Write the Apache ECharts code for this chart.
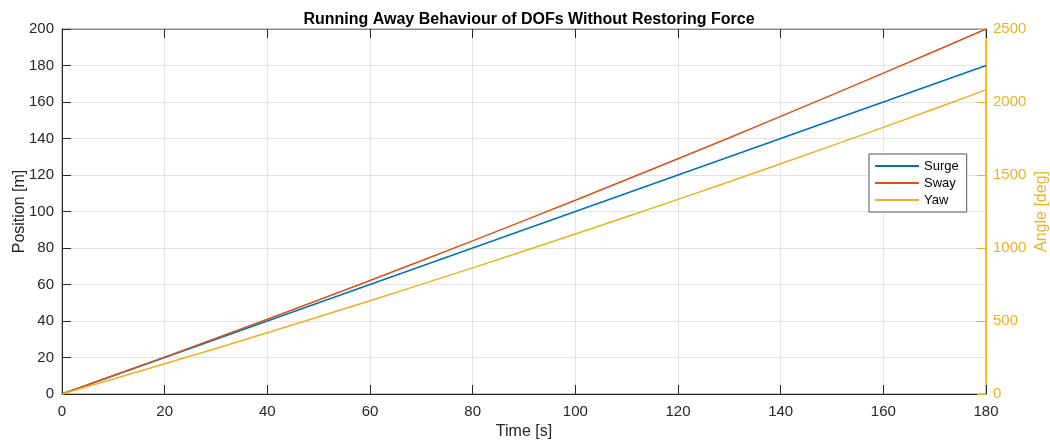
<!DOCTYPE html>
<html>
<head>
<meta charset="utf-8">
<script src="https://cdn.jsdelivr.net/npm/echarts@6/dist/echarts.min.js"></script>
<style>
  html, body { margin: 0; padding: 0; background: #fff; }
  #chart { width: 1050px; height: 441px; }
</style>
</head>
<body>
<div id="chart"></div>
<script>
// Simulation time stamps [s]
const time = [0, 10, 20, 30, 40, 50, 60, 70, 80, 90, 100, 110, 120, 130, 140, 150, 160, 170, 180];
// Drift of each degree of freedom with no restoring force
const surge = [0, 10, 20, 30, 40, 50, 60, 70, 80, 90, 100, 110, 120, 130, 140, 150, 160, 170, 180];
const sway = [0, 10.1, 20.2, 30.6, 41.0, 51.5, 62.2, 73.0, 83.9, 95.0, 106.2, 117.5, 128.9, 140.4, 152.1, 163.9, 175.8, 187.8, 200.0];
const yaw = [0, 103, 207, 312, 420, 529, 639, 751, 864, 979, 1096, 1214, 1333, 1454, 1577, 1701, 1826, 1954, 2083];

const xTicks = { min: 0, max: 180, interval: 20 };
const posTicks = { min: 0, max: 200, interval: 20 };
const angTicks = { min: 0, max: 2500, interval: 500 };

const FONT = '"Liberation Sans", Arial, Helvetica, sans-serif';
const INK = '#262626';
const C_SURGE = '#0072BD';
const C_SWAY = '#D95319';
const C_YAW = '#EDB120';
const GRIDC = '#e3e3e3';

const pairs = (xs, ys) => xs.map((x, i) => [x, ys[i]]);
const plain = v => String(v);

const chart = echarts.init(document.getElementById('chart'), null, { renderer: 'canvas' });
chart.setOption({
  animation: false,
  backgroundColor: '#fff',
  title: {
    text: 'Running Away Behaviour of DOFs Without Restoring Force',
    left: 524, top: 7, textAlign: 'center',
    textStyle: { fontFamily: FONT, fontSize: 16, fontWeight: 'bold', color: '#000' }
  },
  grid: {
    left: 62, right: 64, top: 29, bottom: 47,
    outerBoundsMode: 'none', containLabel: false,
    show: true, borderColor: '#8a8a8a', borderWidth: 1, backgroundColor: 'transparent'
  },
  legend: {
    orient: 'vertical', left: 869, top: 154,
    padding: [5, 8, 5, 6], itemGap: 3,
    backgroundColor: '#fff', borderColor: '#555', borderWidth: 1,
    icon: 'rect', itemWidth: 44, itemHeight: 2,
    textStyle: { fontFamily: FONT, fontSize: 13, color: '#000', lineHeight: 14 },
    data: ['Surge', 'Sway', 'Yaw']
  },
  xAxis: [{
    type: 'value', position: 'bottom', ...xTicks,
    name: 'Time [s]', nameLocation: 'middle', nameGap: 30, nameMoveOverlap: false,
    nameTextStyle: { fontFamily: FONT, fontSize: 16, color: INK },
    axisLine: { show: true, onZero: false, lineStyle: { color: INK, width: 1 } },
    axisTick: { show: true, inside: true, length: 9, lineStyle: { color: INK } },
    axisLabel: { fontFamily: FONT, fontSize: 15, color: INK, margin: 10, formatter: plain },
    splitLine: { show: true, lineStyle: { color: GRIDC, width: 1 } }
  }, {
    type: 'value', position: 'top', ...xTicks,
    axisLine: { show: true, onZero: false, lineStyle: { color: '#8a8a8a', width: 1 } },
    axisTick: { show: true, inside: true, length: 9, lineStyle: { color: INK } },
    axisLabel: { show: false },
    splitLine: { show: false }
  }],
  yAxis: [{
    type: 'value', position: 'left', ...posTicks,
    name: 'Position [m]', nameLocation: 'middle', nameGap: 34, nameMoveOverlap: false,
    nameTextStyle: { fontFamily: FONT, fontSize: 16, color: INK },
    axisLine: { show: true, onZero: false, lineStyle: { color: INK, width: 1 } },
    axisTick: { show: true, inside: true, length: 9, lineStyle: { color: INK } },
    axisLabel: { fontFamily: FONT, fontSize: 15, color: INK, margin: 8, formatter: plain },
    splitLine: { show: true, lineStyle: { color: GRIDC, width: 1 } }
  }, {
    type: 'value', position: 'right', ...angTicks,
    name: 'Angle [deg]', nameLocation: 'middle', nameGap: 48, nameMoveOverlap: false,
    nameTextStyle: { fontFamily: FONT, fontSize: 16, color: C_YAW },
    axisLine: { show: true, onZero: false, lineStyle: { color: C_YAW, width: 1 } },
    axisTick: { show: true, inside: true, length: 9, lineStyle: { color: C_YAW } },
    axisLabel: { fontFamily: FONT, fontSize: 15, color: C_YAW, margin: 7, formatter: plain },
    splitLine: { show: false }
  }],
  series: [
    { name: 'Surge', type: 'line', xAxisIndex: 0, yAxisIndex: 0, data: pairs(time, surge),
      showSymbol: false, symbol: 'none', lineStyle: { color: C_SURGE, width: 1.5 }, itemStyle: { color: C_SURGE } },
    { name: 'Sway', type: 'line', xAxisIndex: 0, yAxisIndex: 0, data: pairs(time, sway),
      showSymbol: false, symbol: 'none', lineStyle: { color: C_SWAY, width: 1.5 }, itemStyle: { color: C_SWAY } },
    { name: 'Yaw', type: 'line', xAxisIndex: 0, yAxisIndex: 1, data: pairs(time, yaw),
      showSymbol: false, symbol: 'none', lineStyle: { color: C_YAW, width: 1.5 }, itemStyle: { color: C_YAW } }
  ]
});
</script>
</body>
</html>
